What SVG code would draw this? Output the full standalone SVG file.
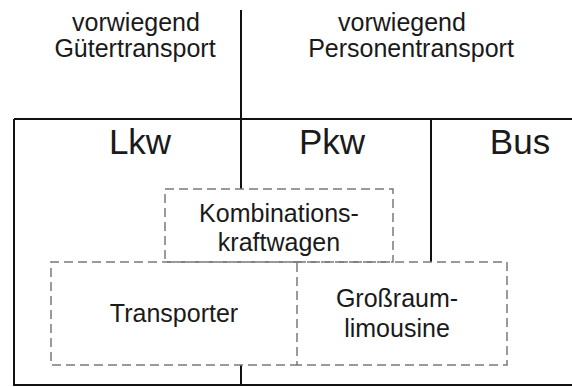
<svg xmlns="http://www.w3.org/2000/svg" width="572" height="387" viewBox="0 0 572 387">
<style>
.solid{stroke:#111;stroke-width:2;fill:none}
.dash{stroke:#7a7a7a;stroke-width:1.5;fill:none;stroke-dasharray:9 5}
text{font-family:"Liberation Sans",Arial,sans-serif;fill:#1a1a1a;text-anchor:middle}
.s{font-size:25px}
.b{font-size:35px}
</style>
<rect width="572" height="387" fill="#fff"/>
<g id="connectors">
<path class="solid" d="M241 10V189M14 119H572M14 119V385H572M431 119V262M241 365V385"/>
</g>
<g id="header-left"><text class="s" x="136" y="31">vorwiegend</text><text class="s" x="135" y="57">Gütertransport</text></g>
<g id="header-right"><text class="s" x="402" y="31">vorwiegend</text><text class="s" x="411" y="57">Personentransport</text></g>
<g id="lkw"><text class="b" x="140" y="154">Lkw</text></g>
<g id="pkw"><text class="b" x="332" y="154">Pkw</text></g>
<g id="bus"><text class="b" x="520" y="154">Bus</text></g>
<g id="kombi"><rect class="dash" x="165" y="189" width="228" height="73"/><text class="s" x="279" y="222">Kombinations-</text><text class="s" x="279" y="251">kraftwagen</text></g>
<g id="transporter"><path class="dash" d="M297 262H51V365H297"/><text class="s" x="174" y="322">Transporter</text></g>
<g id="grossraum"><path class="dash" d="M297 262H507V365H297V262"/><text class="s" x="397" y="307">Großraum-</text><text class="s" x="397" y="337">limousine</text></g>
</svg>
